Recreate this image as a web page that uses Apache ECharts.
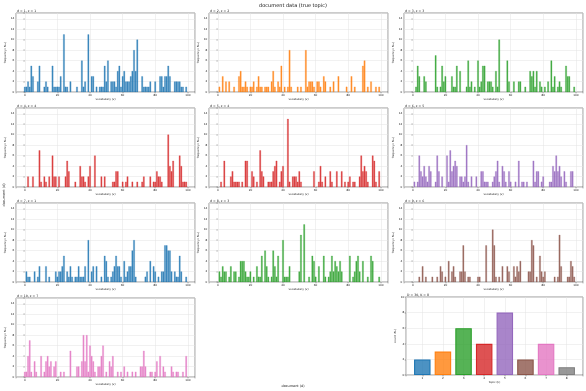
<!DOCTYPE html>
<html><head><meta charset="utf-8">
<script src="https://cdn.jsdelivr.net/npm/echarts@6/dist/echarts.min.js"></script>
<style>html,body{margin:0;padding:0;background:#fff}#c{width:586px;height:391px}</style>
</head><body><div id="c"></div>
<script>
// ---------- data ----------
const docTopics = [1,2,3,4,4,5,1,3,6,7];
// [vocabulary index v, frequency N_dv]
const doc1 = [[0,1],[1,1],[2,2],[3,1],[4,5],[5,3],[8,2],[9,5],[12,1],[13,2],[14,1],[17,5],[18,1],[19,1],[20,1],[21,1],[22,3],[24,11],[25,1],[26,1],[28,2],[32,1],[35,6],[36,1],[37,2],[39,11],[41,3],[42,3],[44,1],[46,1],[47,1],[48,1],[49,5],[50,2],[51,6],[53,2],[54,2],[55,2],[56,1],[57,4],[58,5],[59,1],[60,3],[61,4],[62,2],[63,2],[64,2],[65,3],[66,4],[67,8],[68,4],[69,10],[72,3],[73,1],[74,1],[75,1],[76,1],[77,2],[80,2],[83,3],[84,3],[85,1],[86,3],[87,3],[88,5],[89,3],[92,2],[93,2],[94,2],[95,2],[96,1],[97,1],[99,1]];
const doc2 = [[1,1],[3,3],[5,2],[7,2],[10,1],[13,3],[14,4],[15,1],[16,1],[17,2],[18,1],[20,1],[21,1],[22,2],[24,1],[25,3],[26,1],[27,1],[29,1],[30,1],[31,1],[33,2],[34,4],[35,1],[37,2],[38,1],[39,5],[41,1],[43,1],[44,8],[45,1],[49,1],[51,1],[54,8],[55,1],[56,2],[57,2],[58,2],[59,1],[61,2],[62,2],[63,1],[65,3],[66,2],[69,1],[71,2],[74,3],[79,1],[82,3],[84,1],[89,5],[90,6],[92,1],[94,2],[97,1],[99,1]];
const doc3 = [[2,1],[3,5],[4,3],[7,3],[8,2],[14,7],[15,1],[17,1],[18,5],[19,2],[20,3],[24,3],[25,1],[26,1],[27,5],[29,4],[33,1],[34,6],[35,1],[36,2],[38,1],[40,6],[41,1],[42,2],[43,5],[44,5],[46,2],[47,2],[48,2],[49,1],[51,4],[52,1],[53,10],[58,6],[59,2],[62,2],[65,2],[66,2],[69,1],[72,4],[73,3],[74,4],[75,1],[76,4],[78,2],[79,1],[81,1],[83,2],[85,6],[86,1],[87,3],[89,1],[90,2],[91,1],[94,5],[95,3],[96,3],[99,1]];
const doc4 = [[2,2],[5,2],[9,7],[10,1],[12,2],[13,1],[15,2],[17,6],[18,2],[19,2],[21,2],[25,2],[26,5],[27,3],[31,1],[34,4],[35,2],[36,2],[37,1],[39,2],[40,4],[43,6],[47,2],[49,2],[54,1],[55,1],[56,3],[57,3],[60,1],[62,1],[63,2],[66,1],[69,1],[72,1],[73,2],[77,2],[79,1],[80,1],[81,3],[82,2],[83,2],[84,1],[88,10],[89,4],[90,3],[91,5],[95,6],[96,4],[97,1],[98,1],[99,1]];
const doc5 = [[2,1],[4,5],[8,2],[9,3],[10,1],[11,1],[12,1],[13,1],[15,1],[17,5],[18,5],[21,3],[22,2],[24,1],[26,7],[27,3],[28,2],[31,1],[32,1],[33,1],[34,3],[35,4],[36,5],[38,1],[39,3],[40,4],[43,13],[44,1],[46,2],[47,2],[48,2],[49,1],[50,3],[51,1],[59,3],[62,1],[63,4],[64,1],[66,2],[69,3],[70,1],[73,3],[76,3],[78,1],[80,1],[81,2],[83,1],[84,1],[87,2],[88,6],[89,3],[90,4],[91,3],[92,1],[95,6],[96,5],[97,1],[99,3]];
const doc6 = [[1,1],[3,1],[4,6],[5,3],[6,2],[7,4],[8,2],[9,1],[10,4],[11,3],[14,1],[15,6],[16,3],[18,2],[21,6],[22,1],[23,7],[24,3],[25,4],[26,5],[27,4],[29,2],[30,2],[31,1],[32,2],[33,8],[34,1],[36,2],[39,2],[42,3],[43,3],[44,1],[45,1],[46,1],[49,1],[50,2],[51,3],[52,5],[53,1],[55,4],[56,3],[57,1],[59,3],[60,1],[63,1],[65,5],[67,1],[68,1],[70,1],[74,5],[75,1],[76,3],[77,3],[79,1],[80,2],[84,1],[85,1],[86,4],[87,3],[88,6],[89,3],[90,4],[91,2],[93,3],[94,1],[97,3],[98,3]];
const doc7 = [[1,2],[2,1],[3,1],[6,2],[8,1],[9,3],[13,3],[15,1],[19,2],[20,1],[21,2],[22,2],[23,3],[24,5],[26,2],[27,1],[28,3],[29,1],[31,1],[32,1],[33,3],[34,1],[35,1],[36,1],[37,3],[39,8],[41,2],[42,3],[44,3],[47,1],[49,5],[50,4],[51,1],[53,1],[54,2],[55,3],[56,5],[57,3],[58,3],[59,1],[61,4],[62,1],[63,2],[64,3],[65,3],[66,6],[67,8],[68,1],[74,1],[75,2],[77,4],[79,3],[80,2],[82,1],[84,2],[85,2],[86,7],[87,7],[88,6],[89,6],[90,2],[92,2],[93,1],[94,1],[95,5],[96,2],[99,1]];
const doc8 = [[1,2],[2,1],[3,3],[4,2],[5,2],[7,1],[8,3],[10,2],[11,2],[13,1],[14,4],[15,4],[16,4],[17,2],[18,1],[19,1],[20,2],[22,1],[24,3],[25,1],[26,1],[27,5],[29,6],[30,3],[31,1],[33,1],[34,6],[35,3],[36,1],[37,5],[40,8],[41,1],[42,1],[43,1],[44,3],[50,2],[51,9],[53,11],[56,1],[58,5],[59,4],[60,1],[62,3],[65,5],[66,1],[68,1],[69,2],[70,5],[71,2],[72,4],[73,3],[74,2],[75,4],[76,2],[81,5],[83,1],[84,2],[85,4],[86,5],[87,2],[89,4],[92,1],[94,5],[95,4],[99,1]];
const doc9 = [[4,1],[6,3],[8,1],[12,1],[15,1],[17,3],[18,2],[20,1],[22,4],[24,2],[25,3],[26,1],[29,2],[30,2],[31,7],[32,2],[34,1],[35,1],[40,1],[41,1],[45,7],[49,10],[50,7],[51,1],[53,1],[55,3],[58,3],[59,2],[62,3],[63,1],[64,3],[65,2],[66,4],[71,2],[72,2],[73,8],[74,7],[76,1],[78,5],[79,2],[80,1],[81,2],[87,1],[89,1],[90,9],[91,3],[95,1],[96,1],[97,4],[98,3],[99,1]];
const doc10 = [[0,1],[1,1],[2,4],[3,7],[4,1],[6,3],[7,1],[10,4],[12,1],[13,3],[14,4],[15,2],[16,3],[18,2],[19,3],[22,1],[24,1],[28,5],[32,2],[33,2],[35,3],[36,8],[37,3],[38,8],[39,1],[40,6],[41,4],[42,3],[43,1],[45,2],[46,2],[47,4],[48,6],[50,1],[52,3],[53,2],[54,4],[57,1],[59,1],[61,2],[63,1],[66,1],[68,1],[71,2],[72,2],[73,5],[74,2],[77,1],[78,1],[80,1],[81,3],[83,4],[85,2],[86,1],[90,2],[91,1],[93,1],[94,1],[97,1],[99,4]];
const docs = [doc1,doc2,doc3,doc4,doc5,doc6,doc7,doc8,doc9,doc10];
const topicLabels = [1,2,3,4,5,6,7,8];
const topicCounts = [2,3,6,4,8,2,4,1];
const vocabTicks = [0,20,40,60,80,100];
const freqTicks = [0,2,4,6,8,10,12,14];
const countTicks = [0,2,4,6,8,10];
const numDocs = 30, numTopics = 8;

// ---------- style / layout ----------
const palette = ['#1f77b4','#ff7f0e','#2ca02c','#d62728','#9467bd','#8c564b','#e377c2','#7f7f7f'];
function rgba(hex,a){const n=parseInt(hex.slice(1),16);return `rgba(${n>>16},${(n>>8)&255},${n&255},${a})`;}
const FONT = 'DejaVu Sans';
const colLeft = [16,209,404], rowTop = [13,108,203,298], W = 179, H = 79;
const tickFs = 2.8, nameFs = 2.8, titleFs = 3.2;

const grids=[], xAxes=[], yAxes=[], series=[], graphics=[];
function frameGrid(l,t,w,h){return {left:l,top:t,width:w,height:h,show:true,borderColor:'#333',borderWidth:0.5,backgroundColor:'transparent',containLabel:false};}
const splitLine = {show:true,lineStyle:{color:'#e2e2e2',width:0.5}};
const tick = {show:true,length:1.4,lineStyle:{color:'#333',width:0.4}};
const lbl = (fmt)=>({show:true,fontSize:tickFs,fontFamily:FONT,color:'#222',margin:1.8,formatter:fmt,showMinLabel:true,showMaxLabel:true});

docs.forEach((doc,i)=>{
  const r=Math.floor(i/3), c=i%3;
  const L=colLeft[c], T=rowTop[r];
  grids.push(frameGrid(L,T,W,H));
  const vmin=vocabTicks[0], vstep=vocabTicks[1]-vocabTicks[0], vmax=vocabTicks[vocabTicks.length-1];
  xAxes.push({gridIndex:i,type:'value',min:-5.4,max:104.4,minInterval:vstep,maxInterval:vstep,
    axisLine:{show:false},axisTick:tick,splitLine:splitLine,
    axisLabel:lbl(v=>(vocabTicks.includes(Math.round(v*1000)/1000)?String(v):'')),
    name:'vocabulary (v)',nameLocation:'middle',nameGap:5.2,nameTextStyle:{fontSize:nameFs,fontFamily:FONT,color:'#222'}});
  yAxes.push({gridIndex:i,type:'value',min:0,max:15.1,interval:freqTicks[1]-freqTicks[0],
    axisLine:{show:false},axisTick:tick,splitLine:splitLine,
    axisLabel:lbl(v=>(freqTicks.includes(v)?String(v):'')),
    name:'frequency (N{s|dv})',nameLocation:'middle',nameGap:7,nameRotate:90,
    nameTextStyle:{fontSize:nameFs,fontFamily:FONT,color:'#222',rich:{s:{fontSize:2,fontFamily:FONT,color:'#222',verticalAlign:'bottom'}}}});
  const col = palette[docTopics[i]-1];
  series.push({type:'bar',xAxisIndex:i,yAxisIndex:i,data:doc,barWidth:'92%',
    itemStyle:{color:rgba(col,0.85),borderColor:col,borderWidth:0.25},silent:true});
  graphics.push({type:'text',x:L+1,y:T-0.8,style:{text:`d = ${i+1}, z = ${docTopics[i]}`,font:`${titleFs}px "${FONT}"`,fill:'#222',align:'left',verticalAlign:'bottom'}});
});

// topic count subplot
{
  const i=docs.length, L=406, T=297, w=178, h=78;
  grids.push(frameGrid(L,T,w,h));
  xAxes.push({gridIndex:i,type:'value',min:0.21,max:8.79,minInterval:1,maxInterval:1,
    axisLine:{show:false},axisTick:tick,splitLine:splitLine,
    axisLabel:lbl(v=>(topicLabels.includes(v)?String(v):'')),
    name:'topic (k)',nameLocation:'middle',nameGap:5.2,nameTextStyle:{fontSize:nameFs,fontFamily:FONT,color:'#222'}});
  yAxes.push({gridIndex:i,type:'value',min:0,max:10,interval:countTicks[1]-countTicks[0],
    axisLine:{show:false},axisTick:tick,splitLine:splitLine,
    axisLabel:lbl(v=>(countTicks.includes(v)?String(v):'')),
    name:'count (N{s|k})',nameLocation:'middle',nameGap:7,nameRotate:90,
    nameTextStyle:{fontSize:nameFs,fontFamily:FONT,color:'#222',rich:{s:{fontSize:2,fontFamily:FONT,color:'#222',verticalAlign:'bottom'}}}});
  series.push({type:'bar',xAxisIndex:i,yAxisIndex:i,barWidth:'80%',silent:true,
    data:topicLabels.map((k,j)=>({value:[k,topicCounts[j]],itemStyle:{color:rgba(palette[j],0.8),borderColor:palette[j],borderWidth:1.1}}))});
  graphics.push({type:'text',x:L+1,y:T-0.8,style:{text:`D = ${numDocs}, K = ${numTopics}`,font:`${titleFs}px "${FONT}"`,fill:'#222',align:'left',verticalAlign:'bottom'}});
}

graphics.push({type:'text',x:293,y:5.5,style:{text:'document data (true topic)',font:`5px "${FONT}"`,fill:'#111',align:'center',verticalAlign:'middle'}});
graphics.push({type:'text',x:293,y:386,style:{text:'document (d)',font:`3.4px "${FONT}"`,fill:'#111',align:'center',verticalAlign:'middle'}});
graphics.push({type:'text',x:4,y:195,rotation:Math.PI/2,style:{text:'document (d)',font:`3.4px "${FONT}"`,fill:'#111',align:'center',verticalAlign:'middle'}});

const chart = echarts.init(document.getElementById('c'),null,{renderer:'canvas'});
chart.setOption({animation:false,backgroundColor:'#fff',grid:grids,xAxis:xAxes,yAxis:yAxes,series:series,graphic:graphics});
</script></body></html>
